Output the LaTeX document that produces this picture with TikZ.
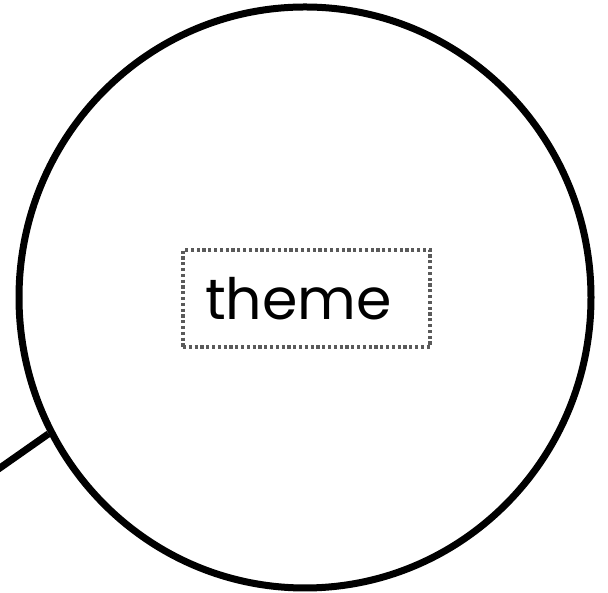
\documentclass[tikz,border=0pt]{standalone}
\usepackage{fontspec}
\usepackage{tikz}
\usepackage{xcolor}
\setmainfont{Poppins}
\usetikzlibrary{positioning,shapes.geometric}
\definecolor{themegray}{HTML}{5A5A5A}
\tikzset{
  themeCircle/.style={draw=black, line width=7pt, ellipse, minimum width=572pt, minimum height=581pt, inner sep=0pt},
  themeBox/.style={draw=themegray, line width=3.4pt, dash pattern=on 3.2pt off 2.6pt, minimum width=247pt, minimum height=97pt, inner sep=0pt, font=\fontsize{57}{60}\selectfont},
  themeLink/.style={line width=7pt, draw=black}
}
\begin{document}
\begin{tikzpicture}[x=1pt, y=1pt]
  \useasboundingbox (0,0) rectangle (608,593);
  \node[themeCircle] (circ) at (305,295.5) {};
  \node[themeBox] (theme) at (306.5,294.5) {theme\hspace*{16pt}};
  \coordinate (linkEnd) at (-3,123);
  \draw[themeLink] (linkEnd) -- (circ.208);
\end{tikzpicture}
\end{document}
